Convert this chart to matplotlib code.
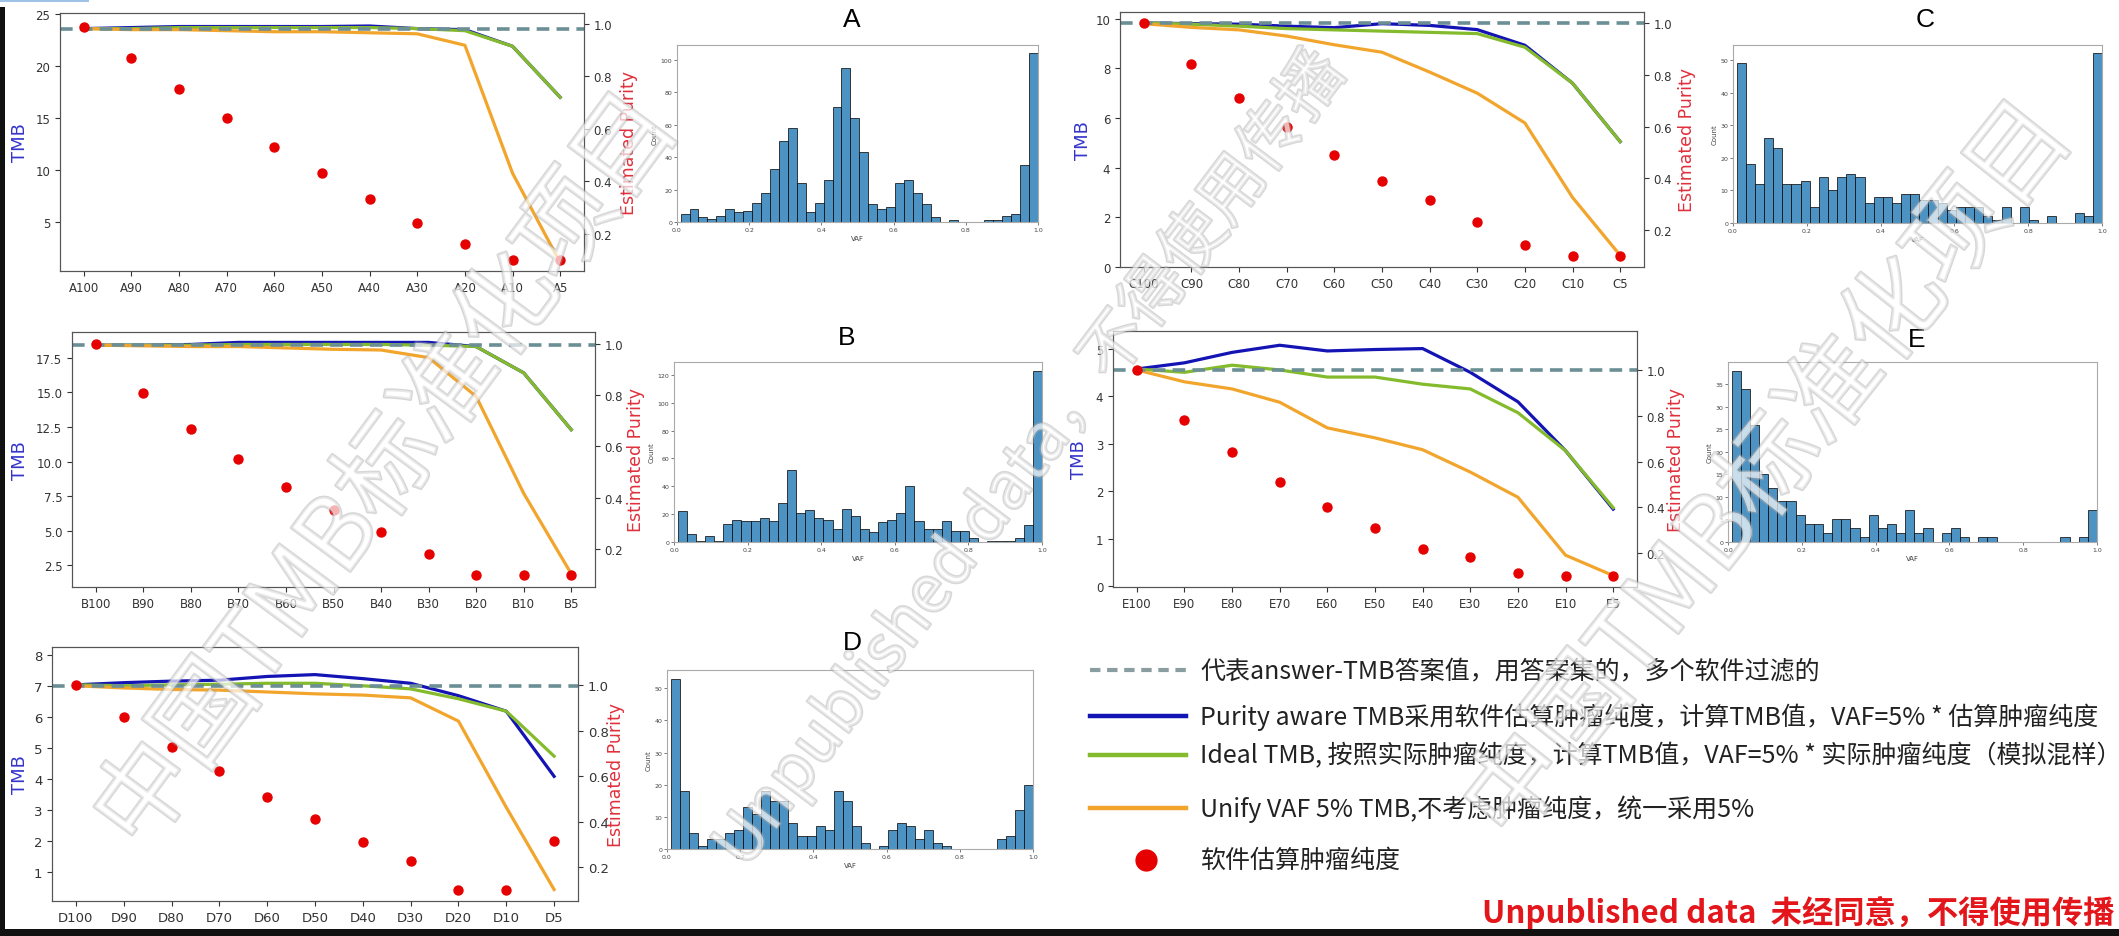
import matplotlib
matplotlib.use('Agg')
import matplotlib.pyplot as plt
import matplotlib.patheffects as pe
from matplotlib.lines import Line2D
from matplotlib.patches import Rectangle
import numpy as np

plt.rcParams['font.family'] = ['DejaVu Sans', 'Noto Sans CJK SC']

W, H = 2119, 937

# dilution levels shared by every sample series
levels = ['100', '90', '80', '70', '60', '50', '40', '30', '20', '10', '5']

# TMB answer value and the three TMB estimates per sample (A..E)
answer_A = 23.6
blue_A = [23.6, 23.7, 23.8, 23.8, 23.8, 23.8, 23.85, 23.6, 23.5, 21.9, 17.0]
green_A = [23.6, 23.6, 23.7, 23.7, 23.7, 23.7, 23.7, 23.6, 23.4, 21.9, 17.0]
orange_A = [23.6, 23.5, 23.5, 23.4, 23.3, 23.3, 23.2, 23.1, 22.0, 9.7, 1.1]
purity_A = [0.99, 0.87, 0.75, 0.64, 0.53, 0.43, 0.33, 0.24, 0.16, 0.10, 0.10]

answer_B = 18.4
blue_B = [18.4, 18.4, 18.45, 18.6, 18.6, 18.6, 18.6, 18.6, 18.3, 16.4, 12.3]
green_B = [18.4, 18.4, 18.4, 18.45, 18.45, 18.45, 18.45, 18.4, 18.3, 16.4, 12.3]
orange_B = [18.4, 18.35, 18.3, 18.3, 18.2, 18.1, 18.05, 17.5, 14.7, 7.7, 1.9]
purity_B = [1.0, 0.81, 0.67, 0.55, 0.44, 0.35, 0.266, 0.18, 0.097, 0.097, 0.097]

answer_C = 9.83
blue_C = [9.83, 9.8, 9.78, 9.7, 9.64, 9.8, 9.73, 9.56, 8.93, 7.4, 5.05]
green_C = [9.83, 9.78, 9.7, 9.6, 9.55, 9.5, 9.45, 9.4, 8.85, 7.4, 5.05]
orange_C = [9.8, 9.65, 9.55, 9.3, 8.95, 8.65, 7.85, 7.0, 5.8, 2.8, 0.47]
purity_C = [1.0, 0.84, 0.71, 0.60, 0.49, 0.39, 0.316, 0.232, 0.141, 0.10, 0.10]

answer_D = 7.02
blue_D = [7.05, 7.12, 7.17, 7.2, 7.32, 7.38, 7.25, 7.1, 6.7, 6.2, 4.1]
green_D = [7.05, 7.02, 7.05, 7.07, 7.1, 7.1, 7.02, 6.92, 6.6, 6.2, 4.75]
orange_D = [7.02, 6.95, 6.9, 6.88, 6.82, 6.76, 6.72, 6.63, 5.88, 3.1, 0.45]
purity_D = [1.0, 0.86, 0.728, 0.622, 0.507, 0.411, 0.309, 0.227, 0.099, 0.099, 0.316]

answer_E = 4.55
blue_E = [4.57, 4.7, 4.92, 5.07, 4.95, 4.98, 5.0, 4.5, 3.88, 2.85, 1.62]
green_E = [4.57, 4.5, 4.65, 4.55, 4.4, 4.4, 4.25, 4.15, 3.65, 2.85, 1.65]
orange_E = [4.55, 4.3, 4.15, 3.87, 3.33, 3.12, 2.87, 2.4, 1.87, 0.65, 0.22]
purity_E = [1.0, 0.78, 0.642, 0.509, 0.402, 0.311, 0.218, 0.184, 0.111, 0.10, 0.10]

# VAF histogram counts, 40 bins
hist_A = [5, 8, 3, 2, 4, 8, 6, 7, 12, 18, 33, 50, 58, 24, 6, 12, 26, 71, 95, 64,
          43, 11, 8, 9, 24, 26, 18, 11, 3, 0, 1, 0, 0, 0, 1, 1, 4, 5, 35, 104]
hist_B = [22, 6, 1, 4, 1, 13, 16, 15, 15, 17, 15, 28, 52, 21, 23, 17, 16, 9, 24, 19,
          9, 7, 14, 16, 21, 40, 15, 9, 9, 15, 8, 8, 3, 0, 1, 1, 1, 3, 12, 123]
hist_C = [49, 18, 12, 26, 23, 12, 12, 13, 5, 14, 10, 14, 15, 14, 6, 8, 8, 6, 9, 9,
          7, 7, 6, 4, 5, 5, 5, 2, 1, 5, 0, 5, 1, 0, 2, 0, 0, 3, 2, 52]
hist_D = [53, 18, 5, 1, 3, 3, 5, 6, 13, 11, 18, 15, 15, 8, 4, 4, 7, 6, 18, 15,
          7, 2, 0, 1, 6, 8, 7, 3, 6, 2, 1, 0, 0, 0, 0, 0, 3, 4, 12, 20]
hist_E = [38, 34, 26, 15, 12, 9, 9, 6, 4, 4, 2, 5, 5, 3, 1, 6, 3, 4, 2, 7,
          2, 3, 0, 2, 3, 1, 0, 1, 1, 0, 0, 0, 0, 0, 0, 0, 1, 0, 1, 7]

legend_labels = [
    '代表answer-TMB答案值，用答案集的，多个软件过滤的',
    'Purity aware TMB采用软件估算肿瘤纯度，计算TMB值，VAF=5% * 估算肿瘤纯度',
    'Ideal TMB, 按照实际肿瘤纯度，计算TMB值，VAF=5% * 实际肿瘤纯度（模拟混样）',
    'Unify VAF 5% TMB,不考虑肿瘤纯度，统一采用5%',
    '软件估算肿瘤纯度',
]

c_blue = '#1414b4'
c_green = '#84bb2c'
c_orange = '#f2a52c'
c_dash = '#6b8f95'
c_red = '#e60000'
c_tmb = '#3535cc'
c_pur = '#e0303c'

fig = plt.figure(figsize=(W / 100, H / 100), dpi=100)


def px_axes(x0, y0, x1, y1):
    return fig.add_axes([x0 / W, 1 - y1 / H, (x1 - x0) / W, (y1 - y0) / H])


def tmb_panel(box, tag, blue, green, orange, answer, purity, tmb_lim, pur_lim,
              tmb_x, pur_x, fs=8.5):
    ax = px_axes(*box)
    x = np.arange(len(levels))
    ax.plot(x, blue, color=c_blue, lw=2.3)
    ax.plot(x, green, color=c_green, lw=2.3)
    ax.plot(x, orange, color=c_orange, lw=2.3)
    ax.axhline(answer, color=c_dash, lw=2.6, dashes=(3.5, 2))
    ax.set_xlim(-0.5, len(levels) - 0.5)
    ax.set_ylim(*tmb_lim)
    ax.set_xticks(x, [tag + lv for lv in levels])
    ax.tick_params(labelsize=fs, colors='#333333')
    ax.set_ylabel('TMB', color=c_tmb, fontsize=13)
    ax.yaxis.set_label_coords(tmb_x, 0.5)
    for s in ax.spines.values():
        s.set_color('#555555')

    ax2 = ax.twinx()
    ax2.scatter(x, purity, color=c_red, s=42, zorder=3)
    ax2.set_ylim(*pur_lim)
    ax2.set_yticks([0.2, 0.4, 0.6, 0.8, 1.0])
    ax2.tick_params(labelsize=fs, colors='#333333')
    ax2.set_ylabel('Estimated Purity', color=c_pur, fontsize=12.5)
    ax2.yaxis.set_label_coords(pur_x, 0.5)
    for s in ax2.spines.values():
        s.set_color('#555555')
    return ax


def vaf_hist(box, title, counts, title_xy):
    ax = px_axes(*box)
    edges = np.linspace(0.01, 1.0, len(counts) + 1)
    ax.bar(edges[:-1], counts, width=np.diff(edges), align='edge',
           color='#1f77b4', alpha=0.8, edgecolor='#111111', linewidth=0.7)
    ax.set_xlim(0, 1)
    ax.set_ylim(0, max(counts) * 1.05)
    ax.set_xticks([0.0, 0.2, 0.4, 0.6, 0.8, 1.0])
    ax.tick_params(labelsize=4.5, length=2, width=0.5, pad=1.5, colors='#444444')
    ax.set_xlabel('VAF', fontsize=5, labelpad=2, color='#444444')
    ax.set_ylabel('Count', fontsize=5, labelpad=2, color='#444444')
    for s in ax.spines.values():
        s.set_color('#aaaaaa')
    fig.text(title_xy[0] / W, 1 - title_xy[1] / H, title, fontsize=19,
             ha='center', va='center', family=['Liberation Sans'])
    return ax


tmb_panel((60, 14, 584, 272), 'A', blue_A, green_A, orange_A, answer_A, purity_A,
          (0.3, 25.1), (0.057, 1.042), -0.059, 1.069)
tmb_panel((72, 333, 595, 588), 'B', blue_B, green_B, orange_B, answer_B, purity_B,
          (0.94, 19.35), (0.05, 1.048), -0.082, 1.061)
tmb_panel((1120, 13, 1644, 268), 'C', blue_C, green_C, orange_C, answer_C, purity_C,
          (0.0, 10.27), (0.058, 1.042), -0.053, 1.065)
tmb_panel((52, 648, 578, 902), 'D', blue_D, green_D, orange_D, answer_D, purity_D,
          (0.08, 8.27), (0.052, 1.167), -0.044, 1.055, fs=9.5)
tmb_panel((1113, 332, 1637, 588), 'E', blue_E, green_E, orange_E, answer_E, purity_E,
          (-0.02, 5.37), (0.052, 1.17), -0.048, 1.057)

vaf_hist((677, 46, 1038, 223), 'A', hist_A, (852, 20))
vaf_hist((674, 363, 1042, 543), 'B', hist_B, (847, 338))
vaf_hist((1733, 46, 2102, 224), 'C', hist_C, (1925, 20))
vaf_hist((667, 671, 1033, 850), 'D', hist_D, (852, 643))
vaf_hist((1728, 363, 2097, 543), 'E', hist_E, (1917, 340))

# legend drawn by hand next to panel D
cjk = ['Noto Sans CJK SC', 'DejaVu Sans']
rows_y = [671, 717, 756, 809, 861]
handles = [
    dict(color='#8a9ea2', lw=3, dashes=(2.5, 1.6)),
    dict(color=c_blue, lw=3.2),
    dict(color=c_green, lw=3.2),
    dict(color=c_orange, lw=3.2),
]
for y, style in zip(rows_y[:4], handles):
    fig.add_artist(Line2D([1090 / W, 1186 / W], [1 - y / H] * 2,
                          transform=fig.transFigure, **style))
fig.add_artist(Line2D([1146 / W], [1 - rows_y[4] / H], transform=fig.transFigure,
                      marker='o', markersize=15, color=c_red, lw=0))
for y, label in zip(rows_y, legend_labels):
    fig.text(1200 / W, 1 - y / H, label, fontsize=18, family=cjk,
             ha='left', va='center', color='#222222')

fig.text(2114 / W, 1 - 913 / H, 'Unpublished data  未经同意，不得使用传播',
         fontsize=22.5, family=cjk, fontweight='bold', color='#e3161c',
         ha='right', va='center')

# faint outlined watermark text over the slide
wm = dict(color='white', alpha=0.45, family=cjk,
          ha='center', va='center', zorder=20,
          path_effects=[pe.withStroke(linewidth=2.2, foreground='#a8a8a8')])
fig.text(388 / W, 1 - 473 / H, '中国TMB标准化项目', rotation=53.5, fontsize=72, **wm)
fig.text(1030 / W, 1 - 460 / H, 'Unpublished data，不得使用传播', rotation=53,
         fontsize=47, **wm)
fig.text(1770 / W, 1 - 473 / H, '中国TMB标准化项目', rotation=51.5, fontsize=72, **wm)

# screen capture border
fig.add_artist(Rectangle((0, 0), 5 / W, 1 - 8 / H, transform=fig.transFigure,
                         color='#111111', lw=0, zorder=30))
fig.add_artist(Rectangle((0, 0), 1, 7 / H, transform=fig.transFigure,
                         color='#111111', lw=0, zorder=30))
fig.add_artist(Rectangle((0, 1 - 3 / H), 89 / W, 3 / H, transform=fig.transFigure,
                         color='#9ec3e6', lw=0, zorder=30))

fig.savefig('out.png', dpi=100)
